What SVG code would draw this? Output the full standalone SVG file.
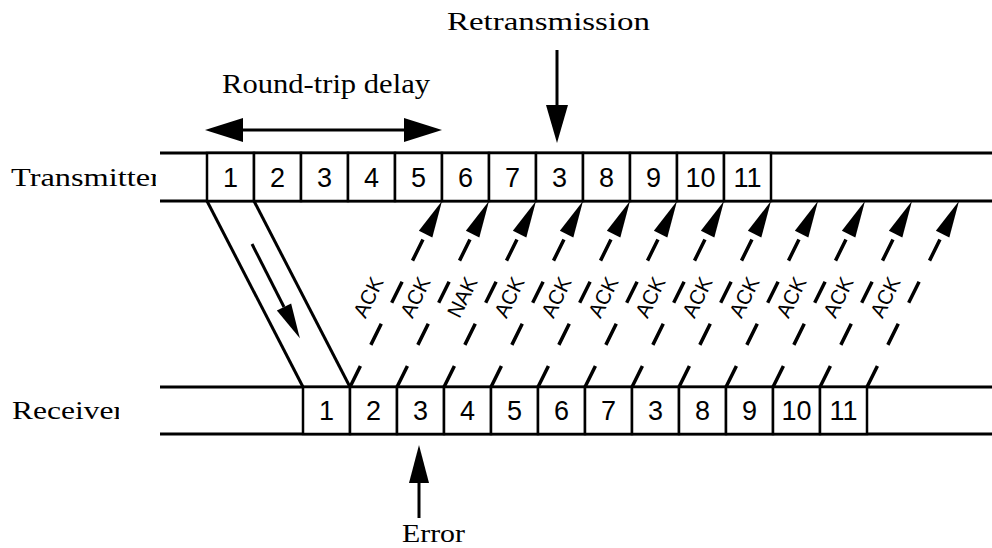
<svg xmlns="http://www.w3.org/2000/svg" width="992" height="548" viewBox="0 0 992 548">
<style>
  .lbl{font-family:"Liberation Serif","Times New Roman",serif;font-size:26px;fill:#000}
  .num{font-family:"Liberation Sans",Arial,sans-serif;font-size:27px;fill:#000;text-anchor:middle}
  .ack{font-family:"Liberation Sans",Arial,sans-serif;font-size:21px;fill:#000;text-anchor:middle;dominant-baseline:central}
  .rail{stroke:#000;stroke-width:3;fill:none}
  .cell rect{fill:#fff;stroke:#000;stroke-width:2.5}
  .dash{stroke:#000;stroke-width:3.5;fill:none;stroke-dasharray:23.5 23.5;marker-end:url(#head)}
  .solid{stroke:#000;stroke-width:3;fill:none}
  .head{fill:#000}
</style>
<defs>
  <marker id="head" markerUnits="userSpaceOnUse" markerWidth="40" markerHeight="20" viewBox="0 -10 40 20" refX="0" refY="0" orient="auto" overflow="visible">
    <path d="M0,-7.5 L37,0 L0,7.5 z" fill="#000"/>
  </marker>
  <marker id="head2" markerUnits="userSpaceOnUse" markerWidth="40" markerHeight="20" viewBox="0 -10 40 20" refX="0" refY="0" orient="auto" overflow="visible">
    <path d="M0,-8 L35,0 L0,8 z" fill="#000"/>
  </marker>
  <clipPath id="clipTx"><rect x="0" y="140" width="156" height="60"/></clipPath>
  <clipPath id="clipRx"><rect x="0" y="380" width="119" height="60"/></clipPath>
</defs>
<rect width="992" height="548" fill="#fff"/>

<!-- annotations -->
<g id="round-trip">
  <text class="lbl" x="222" y="93" textLength="208" lengthAdjust="spacingAndGlyphs" style="font-size:27px">Round-trip delay</text>
  <line class="solid" x1="240" y1="130" x2="408" y2="130"/>
  <polygon class="head" points="205,130 243,118 243,142"/>
  <polygon class="head" points="442,130 404,118 404,142"/>
</g>
<g id="retransmission">
  <text class="lbl" x="447" y="30" textLength="203" lengthAdjust="spacingAndGlyphs">Retransmission</text>
  <line class="solid" x1="557" y1="50" x2="557" y2="108"/>
  <polygon class="head" points="557,143 546,105 568,105"/>
</g>
<g id="error">
  <line class="solid" x1="419" y1="518" x2="419" y2="480"/>
  <polygon class="head" points="419,445 409,483 429,483"/>
  <text class="lbl" x="402" y="542" textLength="63" lengthAdjust="spacingAndGlyphs">Error</text>
</g>

<!-- transmitter timeline -->
<g id="transmitter">
  <text class="lbl" x="11" y="186" textLength="150" lengthAdjust="spacingAndGlyphs" clip-path="url(#clipTx)">Transmitter</text>
  <line class="rail" x1="160" y1="153" x2="992" y2="153"/>
  <line class="rail" x1="160" y1="201" x2="992" y2="201"/>
  <g id="tx-1" class="cell"><rect x="207" y="153" width="47" height="48"/><text class="num" x="230.5" y="187">1</text></g>
  <g id="tx-2" class="cell"><rect x="254" y="153" width="47" height="48"/><text class="num" x="277.5" y="187">2</text></g>
  <g id="tx-3" class="cell"><rect x="301" y="153" width="47" height="48"/><text class="num" x="324.5" y="187">3</text></g>
  <g id="tx-4" class="cell"><rect x="348" y="153" width="47" height="48"/><text class="num" x="371.5" y="187">4</text></g>
  <g id="tx-5" class="cell"><rect x="395" y="153" width="47" height="48"/><text class="num" x="418.5" y="187">5</text></g>
  <g id="tx-6" class="cell"><rect x="442" y="153" width="47" height="48"/><text class="num" x="465.5" y="187">6</text></g>
  <g id="tx-7" class="cell"><rect x="489" y="153" width="47" height="48"/><text class="num" x="512.5" y="187">7</text></g>
  <g id="tx-3r" class="cell"><rect x="536" y="153" width="47" height="48"/><text class="num" x="559.5" y="187">3</text></g>
  <g id="tx-8" class="cell"><rect x="583" y="153" width="47" height="48"/><text class="num" x="606.5" y="187">8</text></g>
  <g id="tx-9" class="cell"><rect x="630" y="153" width="47" height="48"/><text class="num" x="653.5" y="187">9</text></g>
  <g id="tx-10" class="cell"><rect x="677" y="153" width="47" height="48"/><text class="num" x="700.5" y="187">10</text></g>
  <g id="tx-11" class="cell"><rect x="724" y="153" width="47" height="48"/><text class="num" x="747.5" y="187">11</text></g>
</g>

<!-- receiver timeline -->
<g id="receiver">
  <text class="lbl" x="12" y="419" textLength="112" lengthAdjust="spacingAndGlyphs" clip-path="url(#clipRx)">Receiver</text>
  <line class="rail" x1="160" y1="387" x2="992" y2="387"/>
  <line class="rail" x1="160" y1="434" x2="992" y2="434"/>
  <g id="rx-1" class="cell"><rect x="303" y="387" width="47" height="47"/><text class="num" x="326.5" y="420">1</text></g>
  <g id="rx-2" class="cell"><rect x="350" y="387" width="47" height="47"/><text class="num" x="373.5" y="420">2</text></g>
  <g id="rx-3" class="cell"><rect x="397" y="387" width="47" height="47"/><text class="num" x="420.5" y="420">3</text></g>
  <g id="rx-4" class="cell"><rect x="444" y="387" width="47" height="47"/><text class="num" x="467.5" y="420">4</text></g>
  <g id="rx-5" class="cell"><rect x="491" y="387" width="47" height="47"/><text class="num" x="514.5" y="420">5</text></g>
  <g id="rx-6" class="cell"><rect x="538" y="387" width="47" height="47"/><text class="num" x="561.5" y="420">6</text></g>
  <g id="rx-7" class="cell"><rect x="585" y="387" width="47" height="47"/><text class="num" x="608.5" y="420">7</text></g>
  <g id="rx-3r" class="cell"><rect x="632" y="387" width="47" height="47"/><text class="num" x="655.5" y="420">3</text></g>
  <g id="rx-8" class="cell"><rect x="679" y="387" width="47" height="47"/><text class="num" x="702.5" y="420">8</text></g>
  <g id="rx-9" class="cell"><rect x="726" y="387" width="47" height="47"/><text class="num" x="749.5" y="420">9</text></g>
  <g id="rx-10" class="cell"><rect x="773" y="387" width="47" height="47"/><text class="num" x="796.5" y="420">10</text></g>
  <g id="rx-11" class="cell"><rect x="820" y="387" width="47" height="47"/><text class="num" x="843.5" y="420">11</text></g>
</g>

<!-- connectors: forward frame path and acknowledgements -->
<g id="connectors">
  <g id="frame-path">
    <line class="solid" x1="207" y1="201" x2="303" y2="387"/>
    <line class="solid" x1="254" y1="201" x2="350" y2="387"/>
    <path class="solid" d="M252,244 L284,307" marker-end="url(#head2)"/>
  </g>
  <g id="acks">
    <path class="dash" d="M350,387 L425.6,234.2"/>
    <path class="dash" d="M397,387 L472.6,234.2"/>
    <path class="dash" d="M444,387 L519.6,234.2"/>
    <path class="dash" d="M491,387 L566.6,234.2"/>
    <path class="dash" d="M538,387 L613.6,234.2"/>
    <path class="dash" d="M585,387 L660.6,234.2"/>
    <path class="dash" d="M632,387 L707.6,234.2"/>
    <path class="dash" d="M679,387 L754.6,234.2"/>
    <path class="dash" d="M726,387 L801.6,234.2"/>
    <path class="dash" d="M773,387 L848.6,234.2"/>
    <path class="dash" d="M820,387 L895.6,234.2"/>
    <path class="dash" d="M867,387 L942.6,234.2"/>
    <text class="ack" transform="translate(368,297) rotate(-63.7)" textLength="42" lengthAdjust="spacingAndGlyphs">ACK</text>
    <text class="ack" transform="translate(415,297) rotate(-63.7)" textLength="42" lengthAdjust="spacingAndGlyphs">ACK</text>
    <text class="ack" transform="translate(462,297) rotate(-63.7)" textLength="42" lengthAdjust="spacingAndGlyphs">NAK</text>
    <text class="ack" transform="translate(509,297) rotate(-63.7)" textLength="42" lengthAdjust="spacingAndGlyphs">ACK</text>
    <text class="ack" transform="translate(556,297) rotate(-63.7)" textLength="42" lengthAdjust="spacingAndGlyphs">ACK</text>
    <text class="ack" transform="translate(603,297) rotate(-63.7)" textLength="42" lengthAdjust="spacingAndGlyphs">ACK</text>
    <text class="ack" transform="translate(650,297) rotate(-63.7)" textLength="42" lengthAdjust="spacingAndGlyphs">ACK</text>
    <text class="ack" transform="translate(697,297) rotate(-63.7)" textLength="42" lengthAdjust="spacingAndGlyphs">ACK</text>
    <text class="ack" transform="translate(744,297) rotate(-63.7)" textLength="42" lengthAdjust="spacingAndGlyphs">ACK</text>
    <text class="ack" transform="translate(791,297) rotate(-63.7)" textLength="42" lengthAdjust="spacingAndGlyphs">ACK</text>
    <text class="ack" transform="translate(838,297) rotate(-63.7)" textLength="42" lengthAdjust="spacingAndGlyphs">ACK</text>
    <text class="ack" transform="translate(885,297) rotate(-63.7)" textLength="42" lengthAdjust="spacingAndGlyphs">ACK</text>
  </g>
</g>
</svg>
